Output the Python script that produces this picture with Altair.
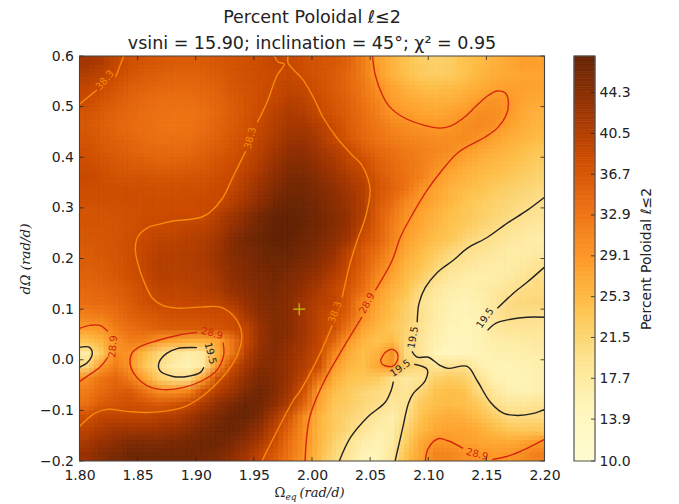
import altair as alt
import pandas as pd
import numpy as np

FONT = "DejaVu Sans"
SERIF = "DejaVu Serif"
INK = "#222222"
X_TICKS = [1.80, 1.85, 1.90, 1.95, 2.00, 2.05, 2.10, 2.15, 2.20]
Y_TICKS = [-0.2, -0.1, 0.0, 0.1, 0.2, 0.3, 0.4, 0.5, 0.6]
CB_TICKS = [10.0, 13.9, 17.7, 21.5, 25.3, 29.1, 32.9, 36.7, 40.5, 44.3]
Z_MIN, Z_MAX = 10.0, 47.7
CMAP = ["#fffbd2", "#fff7bc", "#fee391", "#fec44f", "#fe9929", "#ec7014", "#cc4c02", "#993404", "#662506"]
W, H = 465, 405

# percent poloidal, top row first, left to right
Z_ROWS = [
 [42,41,39,37.5,37,36.5,36,36,36,36.5,37,37.5,38,39,38.5,37.5,37,36.5,35,32,28,26,24,22.5,22,22.5,24,25,26,27,28,28],
 [40.5,39.5,38.2,36.8,36,35.5,35,35,35.3,36,36.8,37.5,38,38.3,38.7,37.8,37,36,34.5,32,28.5,26,24.5,23,22.5,23,24,25.5,26.5,27,27.5,27.5],
 [39,38.1,36.8,35.5,35,34.5,34.2,34.2,34.6,35.3,36.3,37.2,37.8,38.5,39.5,38.6,37.3,36,34.5,32.5,29.5,27.5,26,25,24.5,25,25.5,26.5,27.5,27.8,27.8,27.5],
 [38.1,37,35.8,34.8,34,33.6,33.3,33.5,34,34.8,36,37,38,39,40,39.5,38,36.5,35,33,31,28.2,27,26.3,26,26.2,26.8,28.2,29.3,28.8,27.5,27],
 [37,36,35,34.2,33.6,33.3,33,33,33.5,34.5,35.8,37,38.3,39.8,41,40.5,38.5,37,35.5,33.5,31.5,29.2,28.3,27.5,27.2,27.6,28.6,30,30,28.8,27,26],
 [36.5,35.5,34.7,34,33.5,33,32.8,33,33.6,34.7,36,37.3,38.7,40.5,41.5,41.5,40,38.1,36,34,32.5,31,30,29,28.7,28.8,30,30.5,29.5,27.8,26.3,25.5],
 [37,36,35.2,34.5,33.8,33.3,33.3,33.5,34.2,35.2,36.5,37.8,39.5,41,42.5,42.5,41,38.7,36.5,34.5,33,32,31,30.5,30,30,30.3,29.3,27.7,26.5,25.5,25],
 [37.5,36.5,35.8,35,34.5,34.2,34,34.3,35,36,37.2,38.4,40,42,43.5,43.5,42,40.5,38.6,36,34.5,33.2,32.3,31.5,30.7,30,28.6,27.3,26.3,25.5,24.5,23.5],
 [38,37.2,36.5,36,35.5,35.2,35.2,35.5,36,37,37.9,39,41,43,44.5,44.5,43,41.5,39.5,38.1,35.5,34,32.8,31.5,30,28.4,27,26,25.2,24.5,23.5,22.5],
 [38.5,38,37.3,37,36.8,36.5,36.5,36.8,37,37.8,38.3,40,42,44,45.5,45.5,44,42.5,41,39.3,36.5,34.5,33,31.5,28.9,27,26,25,24.2,23.5,22.5,21.6],
 [38,37.8,37.8,37.7,37.7,37.5,37.5,37.7,37.8,38.1,39,41,43,45,46,46,45,43.5,42,40,37,35,33,29.3,27.5,26,25,24.2,23,22.3,21.5,20.7],
 [37.5,37.5,37.6,37.7,37.8,37.9,38,38,38.1,38.2,40,42,44,46,47,46.5,45.5,44,42.5,40.5,36.5,34,30.5,28.8,27,25.5,24,23,22,21.2,20.4,19.6],
 [37,37,37.2,37.5,37.8,38,38.1,38.2,38.3,40,42,44,46,47.5,47.5,47,46,44.5,43,40.5,36,32.5,29.5,27.5,26,24.5,23.5,22.5,21.5,20.7,19.4,18.9],
 [36.8,36.8,37,37.5,38.2,38.5,38.8,39.2,39.6,41,43,45,46.5,47.7,47.7,47,46,44.5,43,39.5,35.5,32,28.9,27,25.3,24,23,21.5,20.4,19.2,18.3,17.5],
 [36.5,36.5,37,37.7,38.6,39.5,39.5,40,40.5,42,44.5,46,47,47.7,47.5,46.5,45.5,44,42,37.7,35,31.5,27.8,26,24.5,23.3,21.5,20,19,18,17.2,16.7],
 [36,36.5,37,37.8,39,40,40,40.5,41,42.5,44.5,45.5,46.5,47.2,47,46,44.5,43,39.5,36,33.5,29.8,27,25,23,21,19.5,19,18,17,16.8,17.2],
 [35.5,36,36.8,37.8,39,40.5,40,40.5,41,42.5,44,45,46,46.5,46,45,43.5,41.5,38.7,35.5,32,28.7,25.5,24,21.5,19.3,18.5,17.2,16.8,16.8,17.5,18.8],
 [35,35.5,36.3,37.5,38.6,40,39.8,40.2,40.5,41.5,43.5,44.5,45.5,46,45,44,42.5,40,37.7,34.5,30.5,27.5,25,22.5,19.7,17.8,16.8,16.3,16.5,17.3,18.5,19.9],
 [34.5,34.8,35.5,36.5,38,39.5,39.3,39.6,40,41,43,44,45,45.5,44.5,43,41,39,36.5,33.5,28.7,26,24,20.3,18,16.5,16,16.5,17.5,18.8,20,20.5],
 [33.5,34,34.8,36,37.5,38.5,38.5,38.8,39,39.5,41,43,44.5,45,44,42,40,39.2,36,30.3,27.5,25,22.5,19.3,17,15.8,15.2,15.8,17.5,20,20.7,21],
 [31.5,32,33.5,35,36,37,37.5,37.5,37.7,38,38.3,41.5,44,45,44,42,39.5,37.8,35,29.5,26.5,24.5,22,19.6,17,15.5,15,15.5,18.5,20,19.8,19.6],
 [28.5,29,32,33.5,34.5,35.5,36,36,36.3,37,37.8,39.5,43,45,44,42,39.5,37.5,32.5,27.5,25.5,23.5,21.5,19,16.5,15,14.8,15.5,17.5,18.5,18.5,18.5],
 [24,26,29.5,32,31.5,28.5,27.5,26.5,26.5,27.5,32.5,38.8,43,45,43.5,41.5,39,35,28.7,25.5,24,25,21,18.5,15.8,14.5,14.5,15.5,16.5,17,17.2,17.5],
 [17,23,30,29.2,25,21,18.5,17,18,26.5,32.5,40,43.5,44.5,43,41,38.5,31,26.7,24.5,26,29.5,20,18.5,15,14,14.5,15.3,15.8,16,16.3,16.7],
 [21,28.5,32,29,23.5,19.7,16.5,15.5,18,29,38.3,42,44.5,44.5,42.5,40.5,37.5,28.6,25.5,24.5,27,28.9,22,20.5,18.5,19,19.3,16,15.3,15.3,15.5,16],
 [30,33,34.5,32,27.5,22.5,20,20,27.5,37.5,40.5,43.5,45.5,44.5,42.5,39,32.5,26.5,24,23.5,23,19.8,17.8,18.8,22,23,22,19.2,15.8,15.2,15.3,15.8],
 [32,34,35.5,36,33,30,29.5,31,37,40,42.5,45,46.5,44.5,41.5,37,28,25,23,21.5,20.5,19.4,18.3,21,24,24.5,24,20.3,18,15.8,15.5,16],
 [33.5,36,37,37.5,37,36,37,38.5,41,43.5,45.5,47,46,43.5,40,34.5,27.5,23.5,22.5,21,20,18,19,23,24.5,25,24.5,23,19.7,18.5,18,18.7],
 [37.5,39,39.5,39.5,39.5,40,40.5,42,44,45.5,47,47,45,41,36.5,30,26,23,21.5,20,18,16.5,19.5,24,26,26.5,26,24.5,22.5,20.5,20.3,20.5],
 [39.5,41,42,42,42,42.5,43,44,45.5,46.5,47,45.5,43,39,34.5,29.5,25.5,23,21,18.5,16.5,16.5,21.5,25,27,27.5,27.5,26.5,25,23.5,23,23],
 [41.5,43,44,45,45,45,45.5,46,46.5,46.5,45.5,43.5,41,37.5,33,29.5,25.5,22,19.3,16.5,15.5,17,22.5,27,29,28.9,27.8,27.5,27,26.8,27.5,28.6],
 [43,44.5,45.5,46.5,46.5,46.5,46.5,46.5,46,45.5,44,42,39,36,32.5,29,25,21,18.5,15.5,15,18,24,27.5,31,31,29.5,29,28.5,28.9,30,31.5],
]
assert all(len(r) == 32 for r in Z_ROWS), [len(r) for r in Z_ROWS]
assert len(Z_ROWS) == 32

# contour segments (data units), broken where the labels sit
C195 = [
 [(2.2,.321),(2.185,.295),(2.168,.27),(2.151,.242),(2.1335,.22),(2.1215,.1965),(2.108,.173),(2.0975,.143),(2.092,.111),(2.0905,.074)],
 [(2.086,.0165),(2.0905,.005),(2.1,.005),(2.11,-.011),(2.117,-.017),(2.1335,-.013),(2.142,-.041),(2.1535,-.084),(2.165,-.106),(2.177,-.11),(2.1905,-.106),(2.2,-.098)],
 [(2.2,.183),(2.185,.153),(2.173,.131),(2.1595,.1015)],
 [(2.151,.058),(2.158,.072),(2.171,.08),(2.185,.084),(2.2,.084)],
 [(2.0235,-.2),(2.033,-.154),(2.0475,-.114),(2.063,-.084),(2.068,-.061),(2.07,-.043)],
 [(2.088,-.009),(2.099,-.019),(2.0975,-.041),(2.087,-.067),(2.083,-.086),(2.0775,-.14),(2.0715,-.2)],
 [(1.901,.024),(1.884,.022),(1.875,.0125),(1.8685,-.005),(1.869,-.021),(1.8805,-.033),(1.8925,-.033),(1.904,-.025),(1.907,-.015)],
 [(1.8,.0245),(1.8085,.0245),(1.811,.0125),(1.807,-.005),(1.8,-.015)],
]
C289 = [
 [(2.052,.6),(2.0545,.562),(2.0605,.523),(2.067,.499),(2.0785,.479),(2.096,.4635),(2.11,.4575),(2.119,.4615),(2.13,.477),(2.142,.503),(2.151,.521),(2.1595,.531),(2.167,.525),(2.169,.507),(2.167,.483),(2.1595,.458),(2.149,.44),(2.126,.41),(2.11,.369),(2.099,.335),(2.087,.2895),(2.076,.242),(2.069,.1965),(2.0545,.137)],
 [(2.043,.084),(2.027,.024),(2.0095,-.047),(1.998,-.114),(1.994,-.2)],
 [(2.059,-.001),(2.063,.0145),(2.069,.0205),(2.0735,.0125),(2.0735,-.001),(2.069,-.013),(2.0605,-.009),(2.059,-.001)],
 [(2.0975,-.2),(2.1,-.175),(2.1085,-.156),(2.117,-.16),(2.13,-.175)],
 [(2.155,-.197),(2.1705,-.189),(2.185,-.175),(2.2,-.1575)],
 [(1.8,.062),(1.809,.068),(1.8175,.068),(1.8245,.056)],
 [(1.8245,.005),(1.8175,-.015),(1.809,-.029),(1.8,-.043)],
 [(1.901,.054),(1.884,.048),(1.867,.038),(1.852,.026),(1.845,.0125),(1.8435,-.007),(1.848,-.031),(1.858,-.051),(1.872,-.059),(1.889,-.055),(1.906,-.041),(1.918,-.021),(1.924,.0085),(1.9235,.034)],
]
C383 = [
 [(1.8,.505),(1.815,.533)],
 [(1.831,.558),(1.838,.6)],
 [(1.9675,.6),(1.971,.588),(1.976,.584),(1.97,.562),(1.961,.507),(1.953,.469)],
 [(1.943,.412),(1.932,.361),(1.923,.319),(1.912,.291),(1.905,.282),(1.897,.278),(1.8805,.274),(1.869,.268),(1.858,.26),(1.85,.242),(1.848,.22),(1.8495,.196),(1.855,.157),(1.863,.121),(1.872,.107),(1.884,.102),(1.904,.104),(1.921,.104),(1.932,.088),(1.939,.059),(1.939,.032),(1.932,-.007),(1.918,-.047),(1.904,-.075),(1.889,-.094),(1.861,-.104),(1.841,-.102),(1.824,-.098),(1.813,-.106),(1.8,-.132)],
 [(1.9795,.6),(1.9795,.586),(1.9925,.5525),(2.001,.519),(2.0095,.479),(2.0215,.438),(2.033,.408),(2.043,.384),(2.048,.359),(2.05,.335),(2.046,.2815),(2.039,.236),(2.033,.1925),(2.026,.123)],
 [(2.0175,.068),(2.007,.0125),(1.99,-.061),(1.984,-.08),(1.9615,-.179),(1.957,-.2)],
]
L195 = [(2.087,.044,280),(2.149,.082,305),(2.076,-.017,325),(1.9125,.0125,75)]
L289 = [(2.0475,.1115,298),(2.142,-.187,15),(1.829,.026,275),(1.914,.052,15)]
L383 = [(1.822,.552,310),(1.947,.438,285),(2.02,.094,290)]
MARKER = [(1.989, 0.1)]

DX, DY = 0.0125, 0.025
cells = []
for j, row in enumerate(Z_ROWS):
    for i, v in enumerate(row):
        cells.append(dict(x=1.8 + i * DX, x2=1.8 + (i + 1) * DX, y=0.6 - j * DY, y2=0.6 - (j + 1) * DY, z=v))
heat_df = pd.DataFrame(cells)

xs = alt.Scale(domain=[1.8, 2.2], nice=False, zero=False)
ys = alt.Scale(domain=[-0.2, 0.6], nice=False, zero=False)
zs = alt.Scale(domain=list(np.linspace(Z_MIN, Z_MAX, len(CMAP))), range=CMAP)

heat = alt.Chart(heat_df).mark_rect(strokeWidth=0.7, clip=True).encode(
    x=alt.X("x:Q", scale=xs, axis=alt.Axis(values=X_TICKS, format=".2f", title=None, grid=False, domain=False,
                                           tickSize=0, labelPadding=7, labelFont=FONT, labelFontSize=14,
                                           labelColor=INK, labelFlush=False)),
    x2="x2:Q",
    y=alt.Y("y:Q", scale=ys, axis=alt.Axis(values=Y_TICKS, format=".1f", grid=False, domain=False, tickSize=0,
                                           labelPadding=6, labelFont=FONT, labelFontSize=14, labelColor=INK,
                                           title="dΩ (rad/d)", titleFont=SERIF, titleFontStyle="italic",
                                           titleFontWeight="normal", titleFontSize=13.5, titleColor=INK, titlePadding=7)),
    y2="y2:Q",
    color=alt.Color("z:Q", scale=zs, legend=None),
    stroke=alt.Stroke("z:Q", scale=zs, legend=None),
)

# the same cells drawn again, half transparent and slightly displaced, so the blocks blend as in the smooth image
blend = []
n = 0
for ox in (-1 / 3, 0, 1 / 3):
    for oy in (-1 / 3, 0, 1 / 3):
        n += 1
        d = heat_df.copy()
        d["x"] += ox * DX; d["x2"] += ox * DX
        d["y"] += oy * DY; d["y2"] += oy * DY
        blend.append(alt.Chart(d).mark_rect(opacity=1 / n, clip=True).encode(
            x=alt.X("x:Q", scale=xs), x2="x2:Q", y=alt.Y("y:Q", scale=ys), y2="y2:Q",
            color=alt.Color("z:Q", scale=zs, legend=None)))


def contour_layer(segments, colour):
    rows = []
    for s, seg in enumerate(segments):
        for k, (a, b) in enumerate(seg):
            rows.append(dict(x=a, y=b, seg=s, k=k))
    return alt.Chart(pd.DataFrame(rows)).mark_line(
        color=colour, strokeWidth=1.4, interpolate="catmull-rom", clip=True, strokeJoin="round"
    ).encode(x=alt.X("x:Q", scale=xs), y=alt.Y("y:Q", scale=ys), detail="seg:N", order="k:Q")


def label_layer(labels, colour, text):
    df = pd.DataFrame([dict(x=a, y=b, r=c, t=text) for a, b, c in labels])
    return alt.Chart(df).mark_text(color=colour, font=FONT, fontSize=10, align="center", baseline="middle").encode(
        x=alt.X("x:Q", scale=xs), y=alt.Y("y:Q", scale=ys), text="t:N",
        angle=alt.Angle("r:Q", scale=None),
    )


BLACK, RED, ORANGE = "#222222", "#d4260c", "#f58a0a"
tick_c = "#222222"
x_df = pd.DataFrame({"v": X_TICKS})
y_df = pd.DataFrame({"v": Y_TICKS})
ticks = [
    alt.Chart(x_df).mark_rule(color=tick_c, strokeWidth=0.8).encode(x=alt.X("v:Q", scale=xs), y=alt.value(H), y2=alt.value(H - 4)),
    alt.Chart(x_df).mark_rule(color=tick_c, strokeWidth=0.8).encode(x=alt.X("v:Q", scale=xs), y=alt.value(0), y2=alt.value(4)),
    alt.Chart(y_df).mark_rule(color=tick_c, strokeWidth=0.8).encode(y=alt.Y("v:Q", scale=ys), x=alt.value(0), x2=alt.value(4)),
    alt.Chart(y_df).mark_rule(color=tick_c, strokeWidth=0.8).encode(y=alt.Y("v:Q", scale=ys), x=alt.value(W), x2=alt.value(W - 4)),
]
frame_df = pd.DataFrame({"a": [0]})
frame = alt.Chart(frame_df).mark_rect(fill=None, stroke="#444444", strokeWidth=1.1).encode(
    x=alt.value(0), x2=alt.value(W), y=alt.value(0), y2=alt.value(H))

marker = alt.Chart(pd.DataFrame(MARKER, columns=["x", "y"])).mark_point(
    shape="M-1,0L1,0M0,-1L0,1", size=144, color="#c4c400", strokeWidth=1.2, filled=False, opacity=1
).encode(x=alt.X("x:Q", scale=xs), y=alt.Y("y:Q", scale=ys))


def note(txt, px, py, size, font=SERIF, style="italic"):
    return alt.Chart(frame_df).mark_text(text=txt, font=font, fontStyle=style, fontSize=size, color=INK,
                                         align="left", baseline="alphabetic").encode(
        x=alt.value(px), y=alt.value(py))


x_title = [note("Ω", 195, H + 36, 13, style="normal"), note("eq", 206, H + 39, 9), note("(rad/d)", 220, H + 36, 13)]

main = alt.layer(
    heat, *blend,
    contour_layer(C383, ORANGE), contour_layer(C289, RED), contour_layer(C195, BLACK),
    label_layer(L383, ORANGE, "38.3"), label_layer(L289, RED, "28.9"), label_layer(L195, BLACK, "19.5"),
    marker, *ticks, frame, *x_title,
).properties(
    width=W, height=H,
    title=alt.TitleParams(
        text=["Percent Poloidal ℓ≤2", "vsini = 15.90; inclination = 45°; χ² = 0.95"],
        font=FONT, fontSize=17.5, fontWeight="normal", color=INK, anchor="middle", lineHeight=26, offset=-3),
)

cb_s = alt.Scale(domain=[Z_MIN, Z_MAX], nice=False, zero=False)
CB_W = 21
steps = np.linspace(Z_MIN, Z_MAX, 161)
cb_df = pd.DataFrame({"a": steps[:-1], "b": steps[1:], "z": (steps[:-1] + steps[1:]) / 2})
cb = alt.Chart(cb_df).mark_rect(strokeWidth=0.7).encode(
    x=alt.value(0), x2=alt.value(CB_W),
    y=alt.Y("a:Q", scale=cb_s, axis=alt.Axis(orient="right", values=CB_TICKS, format=".1f", grid=False, domain=False,
                                             tickSize=0, labelPadding=4, labelFont=FONT, labelFontSize=14,
                                             labelColor=INK, title="Percent Poloidal ℓ≤2", titleFont=FONT,
                                             titleFontWeight="normal", titleFontSize=14, titleColor=INK, titlePadding=23,
                                             titleAngle=270)),
    y2="b:Q",
    color=alt.Color("z:Q", scale=zs, legend=None),
    stroke=alt.Stroke("z:Q", scale=zs, legend=None),
)
cb_t = alt.Chart(pd.DataFrame({"v": CB_TICKS})).mark_rule(color=tick_c, strokeWidth=0.8).encode(
    y=alt.Y("v:Q", scale=cb_s), x=alt.value(CB_W), x2=alt.value(CB_W - 4))
cb_f = alt.Chart(frame_df).mark_rect(fill=None, stroke="#555555", strokeWidth=1.2).encode(
    x=alt.value(0), x2=alt.value(CB_W), y=alt.value(0), y2=alt.value(H))
colorbar = alt.layer(cb, cb_t, cb_f).properties(width=CB_W, height=H)

chart = alt.hconcat(main, colorbar, spacing=12.5).configure_view(stroke=None)
chart = chart.properties(background="white", padding={"left": 10.5, "top": 0, "right": 0, "bottom": 0})
chart.save("out.html", embed_options={"renderer": "svg", "actions": False})
